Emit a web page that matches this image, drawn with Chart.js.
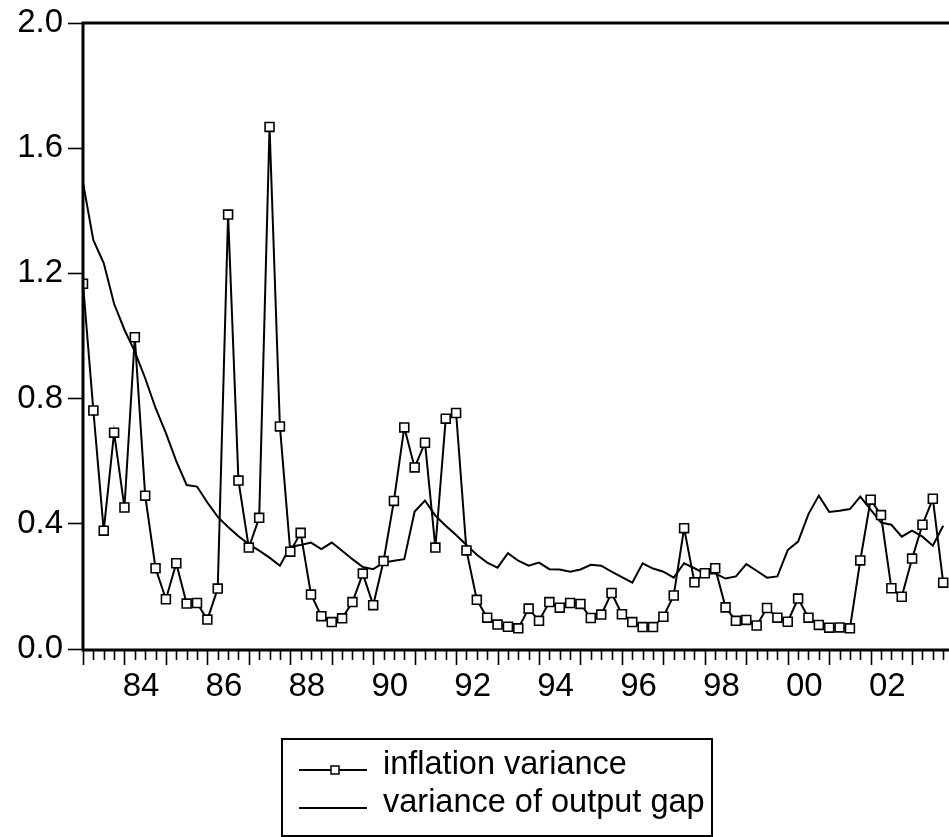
<!DOCTYPE html>
<html>
<head>
<meta charset="utf-8">
<script src="https://cdn.jsdelivr.net/npm/chart.js@4/dist/chart.umd.min.js"></script>
<style>
html,body{margin:0;padding:0;background:#fff;overflow:hidden;}
#wrap{width:949px;height:837px;}
</style>
</head>
<body>
<div id="wrap"><canvas id="c" width="949" height="837"></canvas></div>
<script>
// ---- data ----
const quarters = [
 "1983Q1","1983Q2","1983Q3","1983Q4","1984Q1","1984Q2","1984Q3","1984Q4",
 "1985Q1","1985Q2","1985Q3","1985Q4","1986Q1","1986Q2","1986Q3","1986Q4",
 "1987Q1","1987Q2","1987Q3","1987Q4","1988Q1","1988Q2","1988Q3","1988Q4",
 "1989Q1","1989Q2","1989Q3","1989Q4","1990Q1","1990Q2","1990Q3","1990Q4",
 "1991Q1","1991Q2","1991Q3","1991Q4","1992Q1","1992Q2","1992Q3","1992Q4",
 "1993Q1","1993Q2","1993Q3","1993Q4","1994Q1","1994Q2","1994Q3","1994Q4",
 "1995Q1","1995Q2","1995Q3","1995Q4","1996Q1","1996Q2","1996Q3","1996Q4",
 "1997Q1","1997Q2","1997Q3","1997Q4","1998Q1","1998Q2","1998Q3","1998Q4",
 "1999Q1","1999Q2","1999Q3","1999Q4","2000Q1","2000Q2","2000Q3","2000Q4",
 "2001Q1","2001Q2","2001Q3","2001Q4","2002Q1","2002Q2","2002Q3","2002Q4",
 "2003Q1","2003Q2","2003Q3","2003Q4"
];
const inflationVariance = [
 1.167,0.762,0.378,0.691,0.452,0.996,0.490,0.258,
 0.159,0.274,0.145,0.147,0.094,0.193,1.388,0.538,
 0.324,0.419,1.668,0.711,0.311,0.371,0.174,0.105,
 0.086,0.098,0.150,0.241,0.140,0.281,0.473,0.708,
 0.580,0.659,0.324,0.736,0.754,0.315,0.157,0.100,
 0.078,0.071,0.066,0.129,0.090,0.150,0.132,0.147,
 0.144,0.099,0.110,0.179,0.111,0.086,0.070,0.070,
 0.103,0.171,0.386,0.213,0.242,0.258,0.133,0.090,
 0.093,0.075,0.131,0.100,0.087,0.161,0.100,0.077,
 0.068,0.069,0.066,0.283,0.477,0.428,0.194,0.167,
 0.289,0.397,0.480,0.212
];
const outputGapVariance = [
 1.490,1.306,1.233,1.103,1.020,0.950,0.865,0.770,
 0.690,0.600,0.524,0.519,0.468,0.422,0.390,0.360,
 0.335,0.314,0.292,0.266,0.327,0.332,0.340,0.319,
 0.340,0.314,0.287,0.262,0.255,0.276,0.282,0.287,
 0.439,0.474,0.426,0.394,0.364,0.332,0.301,0.276,
 0.260,0.306,0.282,0.266,0.276,0.255,0.254,0.247,
 0.254,0.269,0.266,0.247,0.230,0.212,0.274,0.257,
 0.247,0.228,0.274,0.258,0.241,0.241,0.225,0.232,
 0.271,0.250,0.228,0.232,0.316,0.343,0.431,0.490,
 0.438,0.442,0.447,0.487,0.445,0.404,0.397,0.359,
 0.378,0.359,0.330,0.394
];
const xTickYears  = [1984,1986,1988,1990,1992,1994,1996,1998,2000,2002];
const xTickLabels = ["84","86","88","90","92","94","96","98","00","02"];
const yTicks = [0.0,0.4,0.8,1.2,1.6,2.0];
const seriesNames = ["inflation variance","variance of output gap"];

// ---- build ----
function qToNum(q){ return parseInt(q.slice(0,4),10) + (parseInt(q.slice(5),10)-1)/4; }
const xs = quarters.map(qToNum);
const infPts = xs.map((x,i)=>({x:x,y:inflationVariance[i]}));
const gapPts = xs.map((x,i)=>({x:x,y:outputGapVariance[i]}));

const FONT = "'Liberation Sans', Arial, Helvetica, sans-serif";
Chart.defaults.font.family = FONT;
Chart.defaults.color = '#000';

const framePlugin = {
  id: 'frame',
  afterDatasetsDraw(chart){
    const {ctx, chartArea:a, scales:{x}} = chart;
    ctx.save();
    ctx.strokeStyle = '#000';
    ctx.lineCap = 'butt';
    ctx.lineWidth = 3;
    ctx.beginPath();
    ctx.moveTo(a.left, a.bottom+2.5); ctx.lineTo(a.left, a.top-1.5);
    ctx.moveTo(a.left-1.5, a.top); ctx.lineTo(a.right+2, a.top);
    ctx.moveTo(a.left-1.5, a.bottom+1); ctx.lineTo(a.right+2, a.bottom+1);
    ctx.stroke();
    ctx.lineWidth = 1.6;
    ctx.beginPath();
    xs.forEach((v,i)=>{
      const px = Math.round(x.getPixelForValue(v)) + 0.5;
      const isYear = quarters[i].endsWith('Q1');
      ctx.moveTo(px, a.bottom+2);
      ctx.lineTo(px, a.bottom + (isYear ? 16 : 11));
    });
    ctx.stroke();
    ctx.restore();
  },
  afterDraw(chart){
    const ctx = chart.ctx;
    ctx.save();
    ctx.strokeStyle = '#000';
    ctx.lineWidth = 2;
    ctx.strokeRect(282, 739, 430, 97);
    ctx.font = "32.5px " + FONT;
    ctx.fillStyle = '#000';
    ctx.textBaseline = 'alphabetic';
    const rows = [770, 808];
    rows.forEach((ly,i)=>{
      ctx.lineWidth = 2;
      ctx.beginPath();
      ctx.moveTo(299, ly); ctx.lineTo(367, ly);
      ctx.stroke();
      if(i===0){
        ctx.fillStyle = '#fff';
        ctx.fillRect(331, ly-4, 8, 8);
        ctx.lineWidth = 1.5;
        ctx.strokeRect(331, ly-4, 8, 8);
        ctx.fillStyle = '#000';
      }
      ctx.fillText(seriesNames[i], 383, ly + 4);
    });
    ctx.restore();
  }
};

new Chart(document.getElementById('c'), {
  type: 'line',
  data: {
    datasets: [
      { label: seriesNames[0], data: infPts, borderColor: '#000', borderWidth: 2,
        pointStyle: 'rect', pointRadius: 6.3, pointBorderWidth: 1.6,
        pointBackgroundColor: '#fff', pointBorderColor: '#000', tension: 0, fill: false },
      { label: seriesNames[1], data: gapPts, borderColor: '#000', borderWidth: 2,
        pointRadius: 0, tension: 0, fill: false }
    ]
  },
  options: {
    responsive: false,
    animation: false,
    events: [],
    layout: { autoPadding: false, padding: { top: 23, left: 0, right: 0, bottom: 0 } },
    plugins: { legend: { display: false }, tooltip: { enabled: false } },
    scales: {
      x: {
        type: 'linear', min: 1983, max: 2003.89,
        afterFit(s){ s.height = 188; s.paddingLeft = 0; s.paddingRight = 0; },
        afterBuildTicks(s){ s.ticks = xTickYears.map(y=>({value: y + 0.4})); },
        ticks: { autoSkip: false, maxRotation: 0, minRotation: 0,
          font: { size: 33 }, color: '#000', padding: 2,
          callback(v, i){ return xTickLabels[i]; } },
        grid: { drawOnChartArea: false, drawTicks: true, tickLength: 16, tickColor: 'rgba(0,0,0,0)' },
        border: { display: false }
      },
      y: {
        min: 0, max: 2,
        afterFit(s){ s.width = 83; s.paddingTop = 0; s.paddingBottom = 0; },
        afterBuildTicks(s){ s.ticks = yTicks.map(v=>({value:v})); },
        ticks: { font: { size: 33 }, color: '#000', padding: 5,
          callback(v){ return Number(v).toFixed(1); } },
        grid: { drawOnChartArea: false, tickLength: 15, tickWidth: 1.6, tickColor: '#000' },
        border: { display: false }
      }
    }
  },
  plugins: [framePlugin]
});
</script>
</body>
</html>
